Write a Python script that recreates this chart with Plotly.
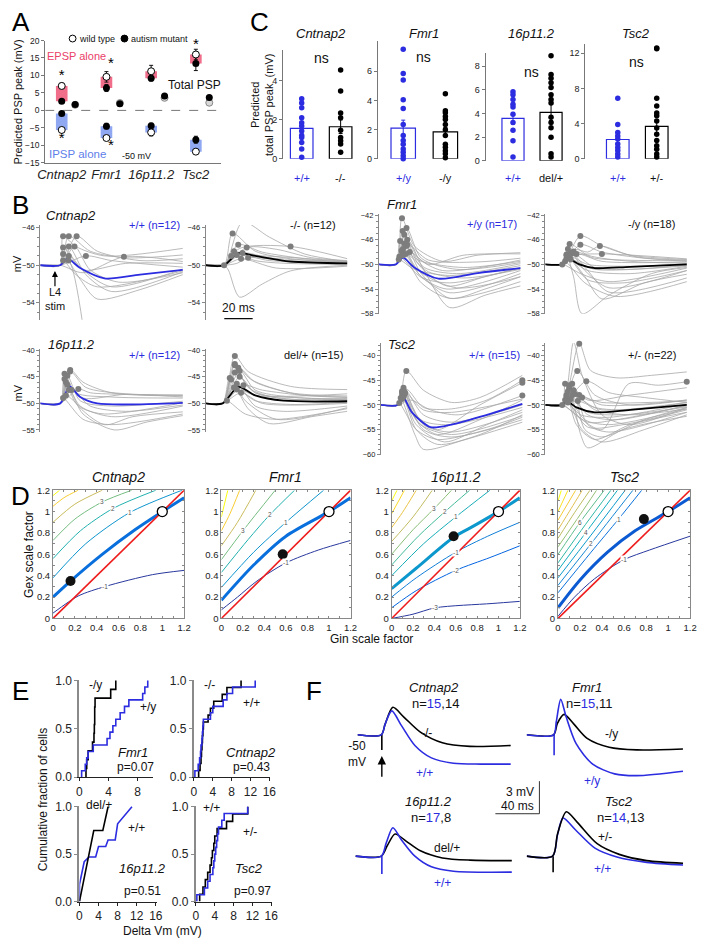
import plotly.graph_objects as go
from plotly.colors import sample_colorscale

W, H = 703, 945
FONT = "Liberation Sans, Arial, sans-serif"
BLUE = "#2c2ce0"
GREY = "#a8a8a8"
DOT = "#7d7d7d"

genes = ["Cntnap2", "Fmr1", "16p11.2", "Tsc2"]

# ---------------- A: predicted PSP peak (mV) ----------------
epsp_wt = [7.0, 9.6, 11.2, 16.0]
epsp_wt_err = [0.8, 1.5, 1.7, 1.5]
epsp_mut = [2.6, 6.4, 9.2, 13.4]
epsp_mut_err = [0.4, 1.0, 0.8, 2.0]
ipsp_wt = [-5.6, -7.9, -6.3, -11.8]
ipsp_wt_err = [0.7, 0.6, 1.0, 0.6]
ipsp_mut = [-0.9, -4.5, -4.4, -8.4]
ipsp_mut_err = [0.4, 0.8, 0.7, 1.0]
total_wt = [1.6, 2.1, 3.6, 2.2]
total_mut = [1.7, 1.9, 4.1, 3.7]
star_x = [0, 0, 1.1, 1.1, 3]
star_y = [9.7, -8.3, 13.2, -10.4, 18.6]

# ---------------- C: predicted total PSP peak per cell ----------------
c_wt_label = ["+/+", "+/y", "+/+", "+/+"]
c_mut_label = ["-/-", "-/y", "del/+", "+/-"]
c_wt_pts = [
    [3.09, 2.87, 2.62, 2.11, 1.86, 1.69, 1.43, 1.2, 1.1, 0.84, 0.51, 0.08],
    [7.5, 5.85, 5.4, 4.05, 3.45, 2.35, 1.6, 1.25, 1.0, 0.67, 0.45, 0.22, 0.0],
    [5.85, 5.6, 5.2, 4.8, 4.55, 3.95, 3.25, 2.6, 1.7, 0.33],
    [6.9, 3.9, 3.0, 2.6, 2.25, 1.7, 1.3, 0.95, 0.55, 0.2],
]
c_mut_pts = [
    [4.56, 3.49, 2.36, 2.11, 1.47, 1.1, 0.93, 0.76, 0.34],
    [4.45, 3.3, 3.15, 2.9, 2.7, 2.35, 2.0, 1.6, 1.0, 0.8, 0.55, 0.35, 0.07],
    [8.9, 7.3, 7.0, 6.6, 6.2, 5.6, 5.2, 4.9, 3.7, 3.25, 2.8, 2.0, 0.6, 0.33],
    [12.6, 12.5, 6.9, 6.0, 5.2, 4.9, 4.3, 3.5, 2.8, 2.1, 1.5, 1.1, 0.55, 0.2],
]
c_wt_mean = [1.57, 2.1, 3.6, 2.2]
c_wt_sem = [0.28, 0.55, 0.5, 0.45]
c_mut_mean = [1.65, 1.85, 4.1, 3.7]
c_mut_sem = [0.35, 0.3, 0.7, 0.75]
c_ymax = [5.57, 8.1, 9.1, 13.0]
c_ticks = [[0, 2, 4], [0, 2, 4, 6], [0, 2, 4, 6, 8], [0, 4, 8, 12]]

# ---------------- B: single-cell traces (t ms, Vm mV) ----------------
b_cnt_wt = [
    [[0, -50], [14, -50], [16, -46.9], [25, -48], [45, -49], [100, -48.2]],
    [[0, -50], [14, -50], [20, -46.9], [35, -48.5], [60, -49.2], [100, -48.9]],
    [[0, -50], [14, -50], [25.5, -46.9], [40, -48.5], [70, -49.5], [100, -49.3]],
    [[0, -50], [14, -50], [16, -48.1], [30, -50.5], [50, -52.3], [100, -50.4]],
    [[0, -50], [14, -50], [20, -48.0], [32, -51], [50, -52.8], [100, -50.7]],
    [[0, -50], [14, -50], [24, -48.0], [35, -50.5], [55, -51.8], [100, -50.8]],
    [[0, -50], [14, -50], [16, -48.8], [28, -51.5], [40, -53.6], [70, -52.6], [100, -51]],
    [[0, -50], [14, -50], [20, -49.0], [30, -50.5], [60, -49.8], [100, -49.8]],
    [[0, -50], [14, -50], [30, -50.8], [58.7, -49.1], [100, -49.6]],
    [[0, -50], [14, -50], [32, -49.0], [50, -49.5], [100, -50.2]],
    [[0, -50], [14, -50], [16, -49.5], [25, -51], [40, -52.3], [100, -50.6]],
    [[0, -50], [14, -50], [19.8, -49.5], [30, -56.5]],
]
b_cnt_wt_mean = [[0, -50], [14, -50], [19, -49.3], [28, -50.3], [45, -51.4], [70, -51], [100, -50.5]]
b_cnt_mut = [
    [[0, -50], [13, -50], [26, -45.4], [45, -47], [70, -48.8], [100, -49.6]],
    [[0, -50], [13, -50], [19, -46.6], [35, -48.5], [60, -49.3], [100, -49.6]],
    [[0, -50], [13, -50], [23, -47.8], [40, -48.6], [70, -49.3], [100, -49.7]],
    [[0, -50], [13, -50], [29, -48.1], [50, -48.3], [75, -49.2], [100, -49.5]],
    [[0, -50], [13, -50], [26, -48.7], [45, -49.2], [100, -49.7]],
    [[0, -50], [13, -50], [22, -49.8], [30, -49.2], [60, -49.6], [100, -49.8]],
    [[0, -50], [13, -50], [16, -50.5], [24, -53.4], [40, -52], [60, -50.6], [100, -50]],
    [[0, -50], [13, -50], [20, -48.5], [35, -49.5], [100, -49.9]],
    [[0, -50], [13, -50], [22, -48.9], [45, -49.5], [100, -49.8]],
    [[0, -50], [13, -50], [25, -49.3], [50, -50.3], [100, -50.1]],
    [[0, -50], [13, -50], [18, -49.0], [40, -49.0], [100, -49.6]],
    [[0, -50], [13, -50], [24, -48.2], [60, -48.0], [100, -49.3]],
]
b_cnt_mut_mean = [[0, -50], [13, -50], [23, -48.7], [35, -49.0], [60, -49.6], [100, -49.8]]
b_fmr_wt = [
    [[0, -50], [12, -50], [16.3, -42.5], [25, -47], [45, -49.5], [70, -48.5], [100, -48.1]],
    [[0, -50], [12, -50], [16.8, -44.6], [28, -50], [48, -53.5], [75, -52], [100, -50.6]],
    [[0, -50], [12, -50], [19.5, -44.1], [30, -49], [55, -50.8], [100, -49.7]],
    [[0, -50], [12, -50], [20, -46], [32, -51], [50, -57], [75, -55], [100, -53.5]],
    [[0, -50], [12, -50], [18, -46.6], [30, -51.5], [50, -55.5], [75, -54], [100, -52]],
    [[0, -50], [12, -50], [21.8, -48], [35, -50], [60, -48.5], [100, -48.3]],
    [[0, -50], [12, -50], [16.8, -48], [30, -52], [50, -54.6], [100, -51.5]],
    [[0, -50], [12, -50], [14.5, -48.7], [28, -51.8], [48, -54], [100, -51]],
    [[0, -50], [12, -50], [19.5, -47], [32, -50.5], [55, -51.5], [100, -49.9]],
    [[0, -50], [12, -50], [17, -47.5], [30, -52], [50, -53], [100, -50.5]],
    [[0, -50], [12, -50], [18, -45.2], [28, -49], [45, -51], [100, -49.3]],
    [[0, -50], [12, -50], [15, -46.2], [28, -51], [55, -53.8], [100, -52]],
    [[0, -50], [12, -50], [16, -47.8], [30, -49.5], [60, -50.5], [100, -49.5]],
    [[0, -50], [12, -50], [19, -48.3], [35, -51.2], [60, -52.2], [100, -50.8]],
    [[0, -50], [12, -50], [17, -48.5], [30, -53], [50, -55.5], [100, -52.8]],
    [[0, -50], [12, -50], [14, -49.2], [25, -50.8], [50, -51.8], [100, -50.2]],
    [[0, -50], [12, -50], [20, -46.8], [35, -49.3], [70, -49.6], [100, -49]],
]
b_fmr_wt_mean = [[0, -50], [12, -50], [17, -48.9], [25, -50.5], [42, -52.3], [70, -51.4], [100, -50.6]]
b_fmr_mut = [
    [[0, -50], [12, -50], [24.8, -45.4], [40, -47], [65, -48.8], [100, -49.3]],
    [[0, -50], [12, -50], [24.8, -46.8], [40, -48], [70, -49], [100, -49.5]],
    [[0, -50], [12, -50], [17.2, -46.7], [30, -48.5], [60, -49.5], [100, -49.8]],
    [[0, -50], [12, -50], [21.4, -47.6], [30, -48], [38.6, -47], [60, -48.5], [100, -49.2]],
    [[0, -50], [12, -50], [15, -48.5], [20, -52], [26, -58], [45, -55], [75, -51.5], [100, -50.5]],
    [[0, -50], [12, -50], [15, -48.4], [28, -52], [40, -55.6], [70, -53], [100, -51.6]],
    [[0, -50], [12, -50], [18, -48.1], [30, -51], [45, -54.5], [100, -52.2]],
    [[0, -50], [12, -50], [16, -47.5], [28, -51], [45, -53.8], [100, -51]],
    [[0, -50], [12, -50], [13, -50], [25, -51.5], [45, -52.8], [100, -50.6]],
    [[0, -50], [12, -50], [19, -48.2], [35, -50.5], [60, -50.8], [100, -50.2]],
    [[0, -50], [12, -50], [20, -47.9], [35, -49], [100, -49.4]],
    [[0, -50], [12, -50], [16, -48.8], [30, -52.5], [55, -53], [100, -51]],
    [[0, -50], [12, -50], [22, -48.3], [40, -49.5], [100, -49.6]],
    [[0, -50], [12, -50], [14, -49.5], [28, -53], [50, -55.2], [100, -52.8]],
    [[0, -50], [12, -50], [17, -48.7], [30, -50], [60, -50.3], [100, -49.9]],
    [[0, -50], [12, -50], [15, -49], [30, -51], [60, -51.5], [100, -50.3]],
    [[0, -50], [12, -50], [20, -48.6], [40, -48.3], [100, -49.1]],
    [[0, -50], [12, -50], [18, -49.2], [35, -50.8], [100, -50.1]],
]
b_fmr_mut_mean = [[0, -50], [12, -50], [17, -49.2], [24, -50], [35, -50.6], [60, -50.4], [100, -50]]
b_16p_wt = [
    [[0, -50], [14, -50], [21, -43.7], [30, -46], [50, -48], [100, -48.6]],
    [[0, -50], [14, -50], [20.9, -44.0], [32, -47], [60, -48.2], [100, -48.4]],
    [[0, -50], [14, -50], [17, -44.4], [25, -48], [50, -48.8], [100, -49]],
    [[0, -50], [14, -50], [19, -44.8], [28, -49.5], [50, -50.5], [100, -49.6]],
    [[0, -50], [14, -50], [17, -45.4], [25, -50], [45, -54], [65, -52.5], [100, -51.6]],
    [[0, -50], [14, -50], [20, -47.5], [30, -52], [52, -55], [75, -53.5], [100, -52.3]],
    [[0, -50], [14, -50], [26.7, -47.3], [35, -48], [60, -48.3], [100, -48.5]],
    [[0, -50], [14, -50], [18, -46], [28, -50.5], [50, -52.5], [100, -50.5]],
    [[0, -50], [14, -50], [19, -46.5], [30, -49], [60, -48.3], [100, -48.8]],
    [[0, -50], [14, -50], [22, -47.5], [35, -50.5], [60, -51.5], [100, -50.3]],
    [[0, -50], [14, -50], [18, -48.5], [30, -51], [45, -52], [100, -49.9]],
    [[0, -50], [14, -50], [16, -49], [30, -53], [50, -54], [100, -52]],
]
b_16p_wt_mean = [[0, -50], [14, -50], [20.5, -46.8], [28, -48.8], [40, -50], [100, -49.9]]
b_16p_mut = [
    [[0, -50], [12, -50], [20.6, -41.1], [30, -44], [60, -46.8], [100, -47.4]],
    [[0, -50], [12, -50], [20.6, -42.6], [32, -45.5], [60, -48], [100, -48.6]],
    [[0, -50], [12, -50], [23, -43.3], [35, -46], [65, -48.3], [100, -48.9]],
    [[0, -50], [12, -50], [20.6, -42.8], [30, -47], [50, -49], [100, -49.2]],
    [[0, -50], [12, -50], [20.6, -44.2], [35, -48], [70, -49], [100, -49.1]],
    [[0, -50], [12, -50], [24, -43.9], [35, -47.5], [60, -48.8], [100, -49.3]],
    [[0, -50], [12, -50], [17, -45.2], [30, -51], [45, -53.8], [75, -52.5], [100, -51.5]],
    [[0, -50], [12, -50], [24, -45], [35, -48], [60, -49.2], [100, -49.5]],
    [[0, -50], [12, -50], [22, -46.3], [35, -50.5], [55, -51.5], [100, -50.5]],
    [[0, -50], [12, -50], [26.7, -46.6], [40, -47.5], [70, -48.5], [100, -48.8]],
    [[0, -50], [12, -50], [18, -45.5], [28, -49.5], [50, -53], [100, -50.8]],
    [[0, -50], [12, -50], [22, -47.4], [35, -49.5], [60, -50.2], [100, -49.8]],
    [[0, -50], [12, -50], [15, -49.5], [28, -52], [50, -53], [100, -51]],
    [[0, -50], [12, -50], [20, -47], [35, -48.5], [100, -48.2]],
    [[0, -50], [12, -50], [25, -48], [40, -50], [100, -50]],
]
b_16p_mut_mean = [[0, -50], [12, -50], [23, -46.9], [35, -48.5], [55, -49.5], [100, -49.6]]
b_tsc_wt = [
    [[0, -50], [12, -50], [18, -43.1], [30, -47], [50, -49.5], [70, -48.5], [100, -44]],
    [[0, -50], [12, -50], [16, -46.1], [25, -52], [40, -55], [70, -50], [100, -45.5]],
    [[0, -50], [12, -50], [16, -47], [25, -53], [40, -56], [70, -53], [100, -49]],
    [[0, -50], [12, -50], [15, -47.5], [25, -54], [45, -57.5], [75, -54], [100, -51]],
    [[0, -50], [12, -50], [15, -48], [25, -55], [40, -58], [70, -56], [100, -52]],
    [[0, -50], [12, -50], [14, -48.6], [24, -56], [30, -59], [60, -57], [100, -53.5]],
    [[0, -50], [12, -50], [21, -49], [35, -51], [55, -52], [100, -48.1]],
    [[0, -50], [12, -50], [13, -49.6], [25, -55], [40, -57], [75, -55], [100, -52.5]],
    [[0, -50], [12, -50], [16, -46.5], [30, -52], [50, -53.5], [100, -50]],
    [[0, -50], [12, -50], [17, -47.8], [30, -54], [50, -55.5], [100, -51.5]],
    [[0, -50], [12, -50], [15, -47.2], [28, -53], [48, -54], [100, -50.5]],
    [[0, -50], [12, -50], [16, -48.4], [30, -55], [50, -56.5], [100, -53]],
    [[0, -50], [12, -50], [17, -47.5], [30, -51], [50, -51.5], [100, -48.8]],
    [[0, -50], [12, -50], [15, -48.8], [28, -54], [50, -56], [100, -52.2]],
    [[0, -50], [12, -50], [18, -46.8], [30, -50.5], [50, -50.8], [75, -49], [100, -45]],
]
b_tsc_wt_mean = [[0, -50], [12, -50], [15.5, -48.3], [22, -51.5], [35, -54.5], [50, -54], [75, -52], [100, -49.8]]
b_tsc_mut = [
    [[0, -50], [12, -50], [20, -37.3], [26, -44], [40, -52], [60, -54], [100, -50.5]],
    [[0, -50], [12, -50], [24, -37.6], [32, -43], [50, -44.5], [75, -44], [100, -43.3]],
    [[0, -50], [12, -50], [22.6, -43.1], [35, -48], [60, -50], [100, -49]],
    [[0, -50], [12, -50], [29, -45.2], [45, -47.5], [70, -48.5], [100, -49.5]],
    [[0, -50], [12, -50], [15, -50.5], [40, -55], [59, -45.7], [80, -46], [100, -45.3]],
    [[0, -50], [12, -50], [14, -45.7], [22, -54], [35, -57], [60, -54], [100, -51.5]],
    [[0, -50], [12, -50], [19, -45.7], [28, -55], [40, -56.5], [70, -53], [100, -50.5]],
    [[0, -50], [12, -50], [17, -46.5], [25, -56], [30, -58.7], [55, -55], [100, -52.3]],
    [[0, -50], [12, -50], [20, -47], [30, -54], [45, -55.5], [100, -51.5]],
    [[0, -50], [12, -50], [15, -48], [28, -53], [45, -54], [100, -50.8]],
    [[0, -50], [12, -50], [19, -48], [35, -50.5], [60, -51], [100, -49.5]],
    [[0, -50], [12, -50], [24, -48], [40, -50], [100, -49]],
    [[0, -50], [12, -50], [13, -50], [30, -53.5], [50, -53], [100, -50.2]],
    [[0, -50], [12, -50], [26, -48.5], [40, -49.5], [100, -49.2]],
    [[0, -50], [12, -50], [16, -47.2], [30, -52], [50, -53], [100, -50]],
    [[0, -50], [12, -50], [18, -48.8], [30, -51.5], [55, -52], [100, -50.4]],
    [[0, -50], [12, -50], [15, -48.3], [26, -55], [40, -57.5], [70, -55], [100, -52]],
    [[0, -50], [12, -50], [21, -47.8], [35, -51], [60, -52], [100, -50.8]],
    [[0, -50], [12, -50], [14, -49], [25, -52], [45, -52.5], [100, -49.8]],
    [[0, -50], [12, -50], [23, -49.2], [40, -51], [100, -49.5]],
    [[0, -50], [12, -50], [17, -46], [30, -49], [60, -48], [100, -46.5]],
    [[0, -50], [12, -50], [16, -49.5], [30, -54.5], [55, -54], [100, -51]],
]
b_tsc_mut_mean = [[0, -50], [12, -50], [15, -49.2], [22, -50.5], [35, -51.5], [60, -51], [100, -50]]

# ---------------- D: contour lines (level, [Gin, Gex] points) ----------------
d_cnt_lines = [
    (-1, [[0, 0.05], [0.23, 0.21], [0.48, 0.3], [0.91, 0.41], [1.2, 0.45]]),
    (0, [[0, 0.2], [0.16, 0.35], [0.45, 0.6], [0.75, 0.83], [1, 1], [1.2, 1.13]]),
    (1, [[0, 0.38], [0.3, 0.7], [0.7, 0.99], [1.18, 1.2]]),
    (2, [[0, 0.56], [0.25, 0.82], [0.55, 1.03], [0.94, 1.2]]),
    (3, [[0, 0.73], [0.2, 0.93], [0.45, 1.09], [0.72, 1.2]]),
    (4, [[0, 0.9], [0.2, 1.07], [0.45, 1.2]]),
    (5, [[0, 1.05], [0.1, 1.13], [0.23, 1.2]]),
    (6, [[0, 1.15], [0.06, 1.2]]),
]
d_fmr_lines = [
    (-1, [[0, 0.08], [0.15, 0.2], [0.33, 0.35], [0.6, 0.52], [0.9, 0.64], [1.2, 0.73]]),
    (0, [[0, 0.17], [0.3, 0.5], [0.6, 0.77], [1, 1], [1.2, 1.13]]),
    (1, [[0, 0.29], [0.3, 0.62], [0.6, 0.9], [0.95, 1.2]]),
    (2, [[0, 0.43], [0.25, 0.74], [0.45, 0.97], [0.68, 1.2]]),
    (3, [[0, 0.55], [0.2, 0.82], [0.5, 1.2]]),
    (4, [[0, 0.68], [0.15, 0.9], [0.32, 1.2]]),
    (5, [[0, 0.82], [0.08, 0.98], [0.17, 1.2]]),
    (6, [[0, 0.95], [0.06, 1.2]]),
]
d_16p_lines = [
    (-3, [[0, 0.0], [0.2, 0.04], [0.41, 0.1], [0.94, 0.14], [1.2, 0.16]]),
    (-2, [[0, 0.1], [0.23, 0.26], [0.6, 0.45], [0.92, 0.57], [1.2, 0.68]]),
    (-1, [[0, 0.2], [0.23, 0.38], [0.6, 0.62], [0.9, 0.77], [1.2, 0.9]]),
    (0, [[0, 0.28], [0.23, 0.47], [0.58, 0.76], [0.74, 0.85], [1, 1], [1.2, 1.13]]),
    (1, [[0, 0.4], [0.3, 0.7], [0.6, 0.95], [0.92, 1.2]]),
    (2, [[0, 0.5], [0.25, 0.77], [0.5, 1.0], [0.73, 1.2]]),
    (3, [[0, 0.6], [0.2, 0.83], [0.4, 1.03], [0.56, 1.2]]),
    (4, [[0, 0.72], [0.2, 0.95], [0.38, 1.2]]),
    (5, [[0, 0.85], [0.1, 0.99], [0.23, 1.2]]),
    (6, [[0, 0.98], [0.12, 1.2]]),
    (7, [[0, 1.1], [0.05, 1.2]]),
]
d_tsc_lines = [
    (-1, [[0, 0.02], [0.15, 0.2], [0.33, 0.37], [0.6, 0.55], [0.83, 0.64], [1.2, 0.77]]),
    (0, [[0, 0.1], [0.2, 0.36], [0.45, 0.62], [0.7, 0.82], [1, 1], [1.2, 1.13]]),
    (1, [[0, 0.24], [0.3, 0.62], [0.55, 0.93], [0.76, 1.2]]),
    (2, [[0, 0.31], [0.3, 0.7], [0.68, 1.2]]),
    (3, [[0, 0.38], [0.3, 0.78], [0.61, 1.2]]),
    (4, [[0, 0.45], [0.25, 0.8], [0.54, 1.2]]),
    (5, [[0, 0.52], [0.25, 0.88], [0.48, 1.2]]),
    (6, [[0, 0.6], [0.2, 0.9], [0.42, 1.2]]),
    (7, [[0, 0.67], [0.2, 0.97], [0.35, 1.2]]),
    (8, [[0, 0.75], [0.15, 0.99], [0.29, 1.2]]),
    (9, [[0, 0.83], [0.12, 1.03], [0.22, 1.2]]),
    (10, [[0, 0.92], [0.16, 1.2]]),
    (11, [[0, 1.0], [0.09, 1.2]]),
    (12, [[0, 1.1], [0.03, 1.2]]),
]
d_labelled = [[-1, 1, 2, 3], [-1, 1, 2, 3], [-3, -2, -1, 1, 2, 3], [-1, 1, 2, 4, 6]]
d_diag = [0, 1.2]
d_wt_point = [1.0, 1.0]
d_mut_points = [[0.16, 0.35], [0.57, 0.6], [0.58, 0.77], [0.78, 0.93]]

# ---------------- E: delta Vm per cell (mV) ----------------
e_fmr_wt = [0.3, 0.8, 1.0, 1.2, 1.9, 3.8, 4.2, 4.6, 5.0, 5.6, 6.2, 6.8, 8.7, 9.0, 9.4]
e_fmr_mut = [0.9, 1.0, 1.2, 1.8, 2.0, 2.05, 2.1, 2.1, 2.15, 4.3, 5.0]
e_cnt_wt = [0.2, 0.9, 1.2, 1.4, 1.5, 1.7, 1.8, 1.9, 2.0, 3.5, 4.0, 6.2, 7.0, 8.2, 13.0]
e_cnt_mut = [1.0, 1.3, 1.5, 1.6, 1.7, 1.8, 1.9, 2.0, 3.0, 3.5, 4.2, 6.0, 7.0, 10.0]
e_tsc_wt = [0.2, 1.8, 2.5, 3.0, 3.6, 3.8, 4.0, 4.2, 4.4, 4.6, 4.8, 5.5, 6.0, 11.0]
e_tsc_mut = [0.8, 1.5, 2.0, 2.5, 3.0, 3.3, 3.5, 3.8, 4.0, 4.5, 6.5, 7.8, 11.0]
e_16p_wt_x = [0, 0, 1.0, 2.0, 3.4, 4.0, 5.5, 6.0, 7.5, 8.0, 11.0]
e_16p_wt_y = [0, 0.18, 0.42, 0.47, 0.47, 0.58, 0.58, 0.65, 0.65, 0.82, 1.0]
e_16p_mut_x = [0, 3.0, 4.9, 6.0]
e_16p_mut_y = [0, 0.75, 0.75, 1.0]

# ---------------- F: average traces (t ms from stim, mV from -50) ----------------
f_cnt_wt = [[-22, 0], [-0.5, 0], [3, 1.2], [9, 2.7], [18, 1.0], [30, -1.2], [45, -2.6], [65, -3.2], [90, -3.3], [117, -3.3]]
f_cnt_mut = [[-22, 0], [-0.5, 0], [3, 1.2], [10, 3.1], [20, 2.0], [35, 0.3], [55, -0.9], [80, -1.3], [117, -1.2]]
f_fmr_wt = [[-25, 0], [-0.5, 0], [2, 1.5], [6, 4.0], [11, 2.0], [20, -1.0], [35, -3.3], [55, -4.4], [75, -4.6], [117, -4.1]]
f_fmr_mut = [[-25, 0], [-0.5, 0], [3, 1.3], [9, 2.3], [18, 1.2], [30, -0.4], [50, -1.4], [75, -1.7], [117, -1.6]]
f_16p_wt = [[-24, 0], [-0.5, 0], [4, 1.5], [10, 3.2], [18, 1.8], [30, 0], [45, -1.2], [65, -1.7], [118, -1.8]]
f_16p_mut = [[-24, 0], [-0.5, 0], [5, 1.2], [12, 2.5], [22, 1.7], [35, 0.6], [55, -0.2], [80, -0.45], [118, -0.5]]
f_tsc_wt = [[-24, 0], [-0.5, 0], [4, 2.4], [9, 4.3], [20, 3.0], [38, 0.9], [58, -0.1], [85, -0.7], [118, -1.0]]
f_tsc_mut = [[-24, 0], [-0.5, 0], [4, 2.5], [12, 5.0], [22, 3.8], [40, 1.4], [60, 0.2], [85, -0.5], [118, -0.8]]
f_artifact = [1.7, 2.3, 2.0, 1.8]
f_n_wt = [15, 15, 17, 14]
f_n_mut = [14, 11, 8, 13]

PARULA = [[0.0, "rgb(53,42,135)"], [0.125, "rgb(3,99,225)"], [0.25, "rgb(20,133,212)"],
          [0.375, "rgb(6,167,198)"], [0.5, "rgb(56,185,158)"], [0.625, "rgb(146,191,115)"],
          [0.75, "rgb(217,186,86)"], [0.875, "rgb(252,206,46)"], [1.0, "rgb(249,251,14)"]]

fig = go.Figure()
axes = {}
annots = []
shapes = []


def make_axes(box, xr, yr, xkw=None, ykw=None):
    i = len(axes) // 2 + 1
    sfx = "" if i == 1 else str(i)
    x0, x1, y0, y1 = box
    xa = dict(domain=[x0 / W, x1 / W], range=xr, anchor="y" + sfx, visible=False,
              showgrid=False, zeroline=False, fixedrange=True)
    ya = dict(domain=[1 - y1 / H, 1 - y0 / H], range=yr, anchor="x" + sfx, visible=False,
              showgrid=False, zeroline=False, fixedrange=True)
    if xkw:
        xa.update(xkw)
    if ykw:
        ya.update(ykw)
    axes["xaxis" + sfx] = xa
    axes["yaxis" + sfx] = ya
    return "x" + sfx, "y" + sfx


def tick_axis(vals, size=8, color="#777", text=None, fmt=None, lw=1, ticks="outside", tlen=3):
    d = dict(visible=True, showline=True, linecolor=color, linewidth=lw, ticks=ticks,
             ticklen=tlen, tickwidth=1, tickcolor=color, tickvals=vals,
             tickfont=dict(size=size, color="#222", family=FONT))
    if text is not None:
        d["ticktext"] = text
    if fmt:
        d["tickformat"] = fmt
    return d


def note(x, y, text, size=11, color="#111", xanchor="center", angle=0):
    annots.append(dict(x=x / W, y=1 - y / H, xref="paper", yref="paper", text=text,
                       showarrow=False, textangle=angle, xanchor=xanchor, yanchor="middle",
                       font=dict(size=size, color=color, family=FONT)))


def pline(x0, y0, x1, y1, color="black", width=1):
    shapes.append(dict(type="line", xref="paper", yref="paper", x0=x0 / W, y0=1 - y0 / H,
                       x1=x1 / W, y1=1 - y1 / H, line=dict(color=color, width=width)))


def pdot(x, y, r, fill, edge):
    shapes.append(dict(type="circle", xref="paper", yref="paper", x0=(x - r) / W, x1=(x + r) / W,
                       y0=1 - (y + r) / H, y1=1 - (y - r) / H, fillcolor=fill, line=dict(color=edge, width=1)))


def curve(pts, xa, ya, color, width, shape="spline"):
    fig.add_trace(go.Scatter(x=[p[0] for p in pts], y=[p[1] for p in pts], mode="lines",
                             line=dict(color=color, width=width, shape=shape, smoothing=0.8),
                             xaxis=xa, yaxis=ya, hoverinfo="skip"))


# ---------------- panel letters ----------------
for lab, x, y in [("A", 13, 16), ("C", 257, 16), ("B", 13, 202), ("D", 13, 497), ("E", 13, 695), ("F", 313, 695)]:
    note(x, y, lab, size=26, color="black")

# ---------------- A ----------------
xa, ya = make_axes((38, 218, 35, 159), [-0.37, 3.57], [-15, 20],
                   xkw=tick_axis(list(range(4)), size=13, text=["<i>%s</i>" % g for g in genes], ticks="", color="#777"),
                   ykw=tick_axis(list(range(-15, 21, 5)), size=8.5))
idx = list(range(4))
for i in idx:
    shapes.append(dict(type="rect", xref=xa, yref=ya, x0=i - 0.13, x1=i + 0.13, y0=epsp_mut[i], y1=epsp_wt[i],
                       fillcolor="#ef5577", opacity=0.85, line_width=0, layer="below"))
    shapes.append(dict(type="rect", xref=xa, yref=ya, x0=i - 0.13, x1=i + 0.13, y0=ipsp_mut[i], y1=ipsp_wt[i],
                       fillcolor="#7d98ee", opacity=0.85, line_width=0, layer="below"))
shapes.append(dict(type="line", xref=xa, yref=ya, x0=-0.37, x1=3.57, y0=0, y1=0,
                   line=dict(color="#777", width=1, dash="dash"), layer="below"))
eb = dict(color="#111", thickness=1, width=2)
for vals, errs in [(epsp_mut, epsp_mut_err), (ipsp_mut, ipsp_mut_err)]:
    fig.add_trace(go.Scatter(x=idx, y=vals, error_y=dict(array=errs, **eb), mode="markers",
                             marker=dict(color="black", size=7), xaxis=xa, yaxis=ya))
for vals, errs in [(epsp_wt, epsp_wt_err), (ipsp_wt, ipsp_wt_err)]:
    fig.add_trace(go.Scatter(x=idx, y=vals, error_y=dict(array=errs, **eb), mode="markers",
                             marker=dict(color="white", size=7, line=dict(color="black", width=1)),
                             xaxis=xa, yaxis=ya))
tx = [i + 0.3 for i in idx]
fig.add_trace(go.Scatter(x=tx, y=total_wt, mode="markers", xaxis=xa, yaxis=ya,
                         marker=dict(color="#d8d8d8", size=7, line=dict(color="#888", width=1))))
fig.add_trace(go.Scatter(x=tx, y=total_mut, mode="markers", xaxis=xa, yaxis=ya,
                         marker=dict(color="black", size=7)))
fig.add_trace(go.Scatter(x=star_x, y=star_y, mode="text", text=["*"] * len(star_x), xaxis=xa, yaxis=ya,
                         textfont=dict(size=15, color="black", family=FONT), cliponaxis=False))
pdot(66, 33, 3.5, "white", "black")
note(71, 33, "wild type", size=9, xanchor="left")
pdot(119, 33, 3.5, "black", "black")
note(124, 33, "autism mutant", size=9, xanchor="left")
note(70, 51, "EPSP alone", size=11, color="#ea4168")
note(71, 150, "IPSP alone", size=11.5, color="#5f80ea")
note(131, 152, "-50 mV", size=9)
note(191, 80, "Total PSP", size=12)
note(10, 97, "Predicted PSP peak (mV)", size=11, angle=-90)

# ---------------- C ----------------
c_boxes = [(281, 355, 45, 155), (378, 465, 35, 155), (488, 572, 48, 157), (590, 680, 39, 155)]
c_xr = [[-0.48, 1.38], [-0.6, 1.42], [-0.72, 1.44], [-0.83, 1.43]]
c_title_x = [320, 425, 535, 642]
c_ns_y = [53, 52, 67, 57]
for k in range(4):
    xa, ya = make_axes(c_boxes[k], c_xr[k], [0, c_ymax[k]], ykw=tick_axis(c_ticks[k], size=9))
    for pos, m, s, col in [(0, c_wt_mean[k], c_wt_sem[k], BLUE), (1, c_mut_mean[k], c_mut_sem[k], "black")]:
        fig.add_trace(go.Bar(x=[pos], y=[m], width=0.58, xaxis=xa, yaxis=ya,
                             marker=dict(color="rgba(255,255,255,0)", line=dict(color=col, width=1.2)),
                             error_y=dict(array=[s], color=col, thickness=1, width=2)))
    fig.add_trace(go.Scatter(x=[0] * len(c_wt_pts[k]), y=c_wt_pts[k], mode="markers", xaxis=xa, yaxis=ya,
                             marker=dict(color=BLUE, size=5.5), cliponaxis=False))
    fig.add_trace(go.Scatter(x=[1] * len(c_mut_pts[k]), y=c_mut_pts[k], mode="markers", xaxis=xa, yaxis=ya,
                             marker=dict(color="black", size=5.5), cliponaxis=False))
    for pos, lab, col in [(0, c_wt_label[k], BLUE), (1, c_mut_label[k], "#111")]:
        annots.append(dict(x=pos, y=1 - 166 / H, xref=xa, yref="paper", text=lab, showarrow=False,
                           font=dict(size=11, color=col, family=FONT)))
    note(c_title_x[k], 28, "<i>%s</i>" % genes[k], size=13)
    note(c_title_x[k], c_ns_y[k], "ns", size=14)
note(259, 100, "Predicted<br>total PSP peak  (mV)", size=11, angle=-90)

# ---------------- B ----------------
b_specs = [
    ((33, 180, 222, 318), [-55.8, -45.7], [-54, -50, -46], b_cnt_wt, b_cnt_wt_mean, BLUE),
    ((202, 348, 222, 318), [-55.8, -45.7], [-54, -50, -46], b_cnt_mut, b_cnt_mut_mean, "black"),
    ((379, 525, 211, 312), [-58, -41.84], [-58, -54, -50, -46, -42], b_fmr_wt, b_fmr_wt_mean, BLUE),
    ((549, 695, 211, 312), [-58, -41.84], [-58, -54, -50, -46, -42], b_fmr_mut, b_fmr_mut_mean, "black"),
    ((33, 180, 348, 432), [-55.4, -39.8], [-55, -50, -45, -40], b_16p_wt, b_16p_wt_mean, BLUE),
    ((202, 348, 348, 432), [-55.4, -39.8], [-55, -50, -45, -40], b_16p_mut, b_16p_mut_mean, "black"),
    ((381, 527, 342, 455), [-60.1, -37.5], [-60, -55, -50, -45, -40], b_tsc_wt, b_tsc_wt_mean, BLUE),
    ((549, 695, 342, 455), [-60.1, -37.5], [-60, -55, -50, -45, -40], b_tsc_mut, b_tsc_mut_mean, "black"),
]
b_axes = []
for box, yr, tv, traces, mean, mcol in b_specs:
    yk = tick_axis(tv, size=7.5, color="#888")
    yk["minor"] = dict(ticks="outside", ticklen=2, dtick=1, tickcolor="#888")
    xa, ya = make_axes(box, [0, 101], yr, ykw=yk)
    b_axes.append((xa, ya))
    px_, py_ = [], []
    for tr in traces:
        curve(tr, xa, ya, GREY, 0.8)
        pk = max(tr[1:], key=lambda p: p[1])
        px_.append(pk[0])
        py_.append(pk[1])
    curve(mean, xa, ya, mcol, 1.8)
    fig.add_trace(go.Scatter(x=px_, y=py_, mode="markers", marker=dict(color=DOT, size=6),
                             xaxis=xa, yaxis=ya, hoverinfo="skip", cliponaxis=False))
note(64, 212, "<i>Cntnap2</i>", size=13)
note(403, 201, "<i>Fmr1</i>", size=13)
note(65, 343, "<i>16p11.2</i>", size=13)
note(403, 343, "<i>Tsc2</i>", size=13)
note(150, 222, "+/+ (n=12)", size=11, color=BLUE)
note(312, 222, "-/- (n=12)", size=11)
note(495, 221, "+/y (n=17)", size=11, color=BLUE)
note(658, 221, "-/y (n=18)", size=11)
note(150, 354, "+/+ (n=12)", size=11, color=BLUE)
note(312, 354, "del/+ (n=15)", size=11)
note(497, 354, "+/+ (n=15)", size=11, color=BLUE)
note(658, 354, "+/- (n=22)", size=11)
note(10, 261, "mV", size=11, angle=-90)
note(10, 392, "mV", size=11, angle=-90)
note(48, 297, "L4<br>stim", size=11)
xa, ya = b_axes[0]
annots.append(dict(x=10.3, y=-50.6, ax=10.3, ay=-52.4, xref=xa, yref=ya, axref=xa, ayref=ya, text="",
                   showarrow=True, arrowhead=2, arrowsize=1, arrowwidth=1.2, arrowcolor="black"))
pline(221, 317, 250, 317, width=1.2)
note(236, 306, "20 ms", size=12)

# ---------------- D ----------------
d_boxes = [(46, 180, 491, 621), (218, 350, 491, 621), (392, 523, 491, 621), (562, 697, 491, 621)]
d_sets = [d_cnt_lines, d_fmr_lines, d_16p_lines, d_tsc_lines]
d_title_x = [113, 284, 458, 630]
dt = [0, 0.2, 0.4, 0.6, 0.8, 1, 1.2]
dtt = ["0", "0.2", "0.4", "0.6", "0.8", "1", "1.2"]
for k in range(4):
    kw = tick_axis(dt, size=9.5, color="#888", text=dtt, ticks="inside", tlen=2)
    kw["mirror"] = "ticks"
    kw["minor"] = dict(ticks="inside", ticklen=2, dtick=0.1, tickcolor="#888")
    xa, ya = make_axes(d_boxes[k], [0, 1.2], [0, 1.2], xkw=dict(kw), ykw=dict(kw))
    levels = [l for l, _ in d_sets[k]]
    lo, hi = min(levels), max(levels)
    for lvl, pts in d_sets[k]:
        col = sample_colorscale(PARULA, [0.03 + 0.97 * (lvl - lo) / (hi - lo)])[0]
        curve(pts, xa, ya, col, 3 if lvl == 0 else 1)
        if lvl in d_labelled[k]:
            lp = pts[len(pts) // 2]
            annots.append(dict(x=lp[0], y=lp[1], xref=xa, yref=ya, text=str(lvl), showarrow=False,
                               bgcolor="white", borderpad=0, font=dict(size=6.5, color="#555", family=FONT)))
    curve([[v, v] for v in d_diag], xa, ya, "#ee1c1c", 1.6, shape="linear")
    fig.add_trace(go.Scatter(x=[d_mut_points[k][0]], y=[d_mut_points[k][1]], mode="markers",
                             marker=dict(color="#111", size=10), xaxis=xa, yaxis=ya))
    fig.add_trace(go.Scatter(x=[d_wt_point[0]], y=[d_wt_point[1]], mode="markers",
                             marker=dict(color="white", size=10, line=dict(color="black", width=1.3)),
                             xaxis=xa, yaxis=ya))
    note(d_title_x[k], 478, "<i>%s</i>" % genes[k], size=14)
note(22, 556, "Gex scale factor", size=12, angle=-90)
note(371, 642, "Gin scale factor", size=12)

# ---------------- E ----------------
def ecdf(vals):
    n = len(vals)
    return [vals[0]] + list(vals), [0] + [(i + 1) / n for i in range(n)]


e_boxes = [(73, 148, 683, 782), (190, 268, 683, 782), (73, 152, 811, 908), (192, 270, 811, 908)]
e_xr = [[0, 10.1], [0, 16.2], [0, 16.2], [0, 16.2]]
e_xt = [[0, 4, 8], [0, 4, 8, 12, 16], [0, 4, 8, 12, 16], [0, 4, 8, 12, 16]]
for k in range(4):
    ykw = tick_axis([0, 0.5, 1], size=12, color="#8a8a8a", fmt=".1f", lw=2)
    xkw = tick_axis(e_xt[k], size=12, color="#222", lw=1.2)
    xa, ya = make_axes(e_boxes[k], e_xr[k], [0, 1.01], xkw=xkw, ykw=ykw)
    if k == 2:
        curve(list(zip(e_16p_wt_x, e_16p_wt_y)), xa, ya, BLUE, 1.6, shape="linear")
        curve(list(zip(e_16p_mut_x, e_16p_mut_y)), xa, ya, "black", 1.6, shape="linear")
    else:
        wt, mut = [(e_fmr_wt, e_fmr_mut), (e_cnt_wt, e_cnt_mut), None, (e_tsc_wt, e_tsc_mut)][k]
        for vals, col in [(mut, "black"), (wt, BLUE)]:
            xs, ys = ecdf(vals)
            curve(list(zip(xs, ys)), xa, ya, col, 1.6, shape="hv")
note(89, 688, "-/y", size=12)
note(143, 711, "+/y", size=12)
note(128, 757, "<i>Fmr1</i>", size=13)
note(130, 772, "p=0.07", size=12)
note(206, 688, "-/-", size=12)
note(249, 707, "+/+", size=12)
note(248, 757, "<i>Cntnap2</i>", size=13)
note(249, 772, "p=0.43", size=12)
note(93, 810, "del/+", size=12)
note(131, 833, "+/+", size=12)
note(137, 875, "<i>16p11.2</i>", size=13)
note(137, 897, "p=0.51", size=12)
note(208, 813, "+/+", size=12)
note(247, 838, "+/-", size=12)
note(246, 875, "<i>Tsc2</i>", size=13)
note(250, 897, "p=0.97", size=12)
note(36, 805, "Cumulative fraction of cells", size=12, angle=-90)
note(158, 938, "Delta Vm (mV)", size=12)

# ---------------- F ----------------
f_boxes = [(357, 515, 700, 790), (530, 690, 695, 790), (355, 515, 820, 890), (530, 690, 810, 890)]
f_xr = [[-22.2, 118.2], [-24.9, 117.3], [-24, 118.2], [-24, 118.2]]
f_yr = [[-5.67, 4.33], [-5.67, 4.89], [-3.11, 4.67], [-3.11, 5.78]]
f_pairs = [(f_cnt_wt, f_cnt_mut), (f_fmr_wt, f_fmr_mut), (f_16p_wt, f_16p_mut), (f_tsc_wt, f_tsc_mut)]
f_art_col = ["black", BLUE, BLUE, "black"]
f_axes = []
for k in range(4):
    xa, ya = make_axes(f_boxes[k], f_xr[k], f_yr[k])
    f_axes.append((xa, ya))
    curve([[0, 0], [0, -f_artifact[k]]], xa, ya, f_art_col[k], 1.6, shape="linear")
    wt, mut = f_pairs[k]
    if k == 3:
        curve(wt, xa, ya, BLUE, 1.6)
        curve(mut, xa, ya, "black", 1.6)
    else:
        curve(mut, xa, ya, "black", 1.6)
        curve(wt, xa, ya, BLUE, 1.6)
f_title = [(435, 691), (592, 691), (430, 807), (624, 807)]
for k in range(4):
    note(f_title[k][0], f_title[k][1], "<i>%s</i>" % genes[k], size=13)
    note(f_title[k][0] + 2, f_title[k][1] + 16,
         "n=<span style='color:%s'>%d</span>,%d" % (BLUE, f_n_wt[k], f_n_mut[k]), size=13)
note(428, 737, "-/-", size=12)
note(426, 778, "+/+", size=12, color=BLUE)
note(617, 738, "-/y", size=12)
note(597, 786, "+/y", size=12, color=BLUE)
note(449, 854, "del/+", size=12)
note(444, 889, "+/+", size=12, color=BLUE)
note(610, 843, "+/-", size=12)
note(607, 875, "+/+", size=12, color=BLUE)
note(357, 758, "-50<br>mV", size=12)
xa, ya = f_axes[0]
annots.append(dict(x=0, y=-2.4, ax=0, ay=-4.9, xref=xa, yref=ya, axref=xa, ayref=ya, text="",
                   showarrow=True, arrowhead=2, arrowsize=1.2, arrowwidth=1.4, arrowcolor="black"))
pline(543, 786, 543, 819, color="#333", width=1)
pline(498, 819, 543, 819, color="#333", width=1)
note(540, 797, "3 mV", size=12, xanchor="right")
note(540, 811, "40 ms", size=12, xanchor="right")

fig.update_layout(
    width=W, height=H, margin=dict(l=0, r=0, t=0, b=0),
    paper_bgcolor="white", plot_bgcolor="white",
    showlegend=False, barmode="overlay",
    font=dict(family=FONT, color="#111"),
    annotations=annots, shapes=shapes, **axes,
)
fig.write_html("out.html", config={"displayModeBar": False},
               post_script="document.body.style.margin='0';document.body.style.overflow='hidden';")
